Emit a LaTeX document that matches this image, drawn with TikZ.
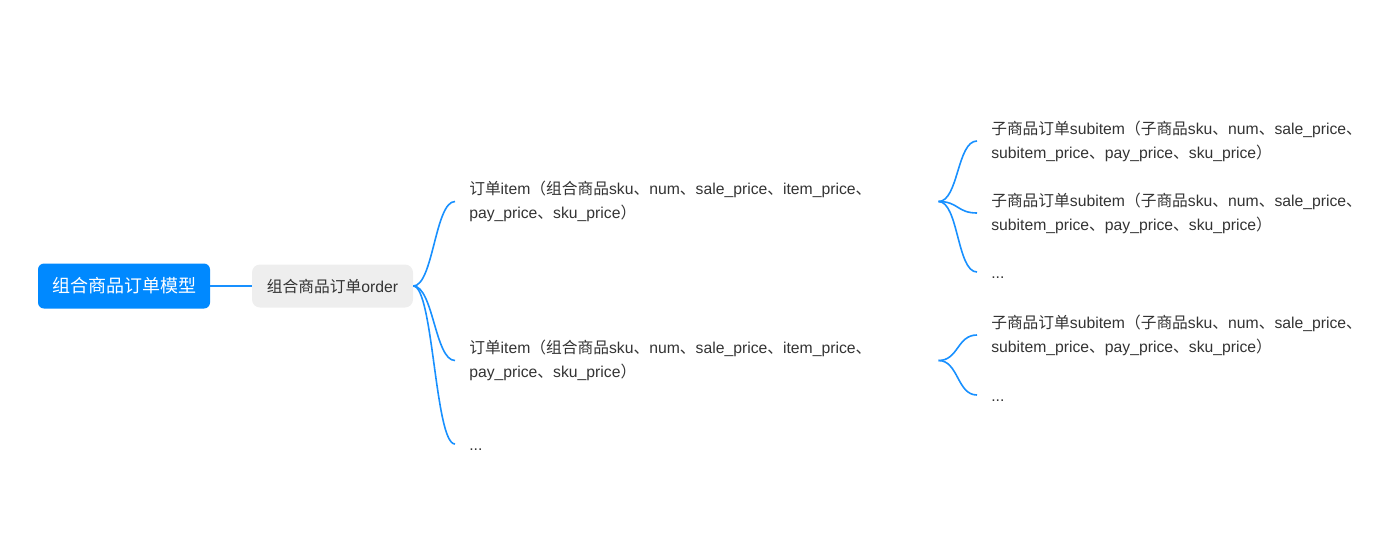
\documentclass[tikz,border=0pt]{standalone}
\usepackage{fontspec}
\setmainfont{Liberation Sans}
\newfontfamily\cjk{Noto Sans CJK SC}
\usetikzlibrary{positioning}

\definecolor{mapblue}{RGB}{0,137,255}
\definecolor{linkblue}{RGB}{24,144,255}
\definecolor{ordergray}{RGB}{238,238,238}
\definecolor{textgray}{RGB}{51,51,51}

\newcommand\zh[1]{{\cjk #1}}
\newcommand\itemtxt{\zh{订单}item\zh{（组合商品}sku\zh{、}num\zh{、}sale\_price\zh{、}item\_price\zh{、}\\pay\_price\zh{、}sku\_price\zh{）}}
\newcommand\subtxt{\zh{子商品订单}subitem\zh{（子商品}sku\zh{、}num\zh{、}sale\_price\zh{、}\\subitem\_price\zh{、}pay\_price\zh{、}sku\_price\zh{）}}

\begin{document}
\begin{tikzpicture}[
  x=0.75pt, y=-0.75pt,
  root/.style={fill=mapblue, rounded corners=4.5pt, text=white, minimum width=129pt, minimum height=33.75pt, font=\fontsize{13.5}{16}\selectfont},
  orderbox/.style={fill=ordergray, rounded corners=6pt, text=textgray, minimum width=120.75pt, minimum height=32.25pt, font=\fontsize{11.8}{14}\selectfont},
  itembox/.style={anchor=west, align=left, text width=341.25pt, inner xsep=10.5pt, text=textgray, font=\fontsize{11.8}{18}\selectfont},
  subbox/.style={anchor=west, align=left, inner xsep=10.5pt, text=textgray, font=\fontsize{11.8}{18}\selectfont},
  dotsbox/.style={subbox, text height=12pt, text depth=2pt},
  link/.style={draw=linkblue, line width=1.2pt}
]
\useasboundingbox (0,0) rectangle (1378,537);

% Root and order
\node[root] (root) at (124,286) {\zh{组合商品订单模型}};
\node[orderbox] (order) at (332.5,286) {\zh{组合商品订单}order};

\draw[link] (root) -- (order);

% Items
\node[itembox] (item1) at (455,201.5) {\itemtxt};
\node[itembox] (item2) at (455,360.5) {\itemtxt};
\node[dotsbox] (itemdots) at (455,444) {...};

\draw[link] (order.east) .. controls +(20,0) and +(-20,0) .. (item1.west);
\draw[link] (order.east) .. controls +(20,0) and +(-20,0) .. (item2.west);
\draw[link] (order.east) .. controls +(20,0) and +(-20,0) .. (itemdots.west);

% Subitems of item 1
\node[subbox] (sub1) at (977,141) {\subtxt};
\node[subbox] (sub2) at (977,213) {\subtxt};
\node[dotsbox] (subdots1) at (977,272) {...};

\draw[link] (item1.east) .. controls +(20,0) and +(-20,0) .. (sub1.west);
\draw[link] (item1.east) .. controls +(20,0) and +(-20,0) .. (sub2.west);
\draw[link] (item1.east) .. controls +(20,0) and +(-20,0) .. (subdots1.west);

% Subitems of item 2
\node[subbox] (sub3) at (977,335) {\subtxt};
\node[dotsbox] (subdots2) at (977,395) {...};

\draw[link] (item2.east) .. controls +(20,0) and +(-20,0) .. (sub3.west);
\draw[link] (item2.east) .. controls +(20,0) and +(-20,0) .. (subdots2.west);

\end{tikzpicture}
\end{document}
